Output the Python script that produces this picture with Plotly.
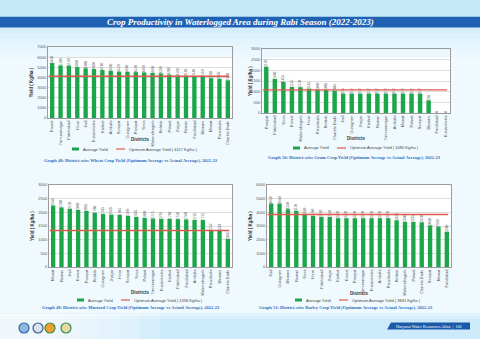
import plotly.graph_objects as go

W, H = 480, 339

# ---------------- data ----------------
wheat_districts = ["Karnal", "Yamunanagar", "Fatehabad", "Hisar", "Jind", "Kurukshetra", "Kaithal",
                   "Ambala", "Sonipat", "Gurugram", "Panipat", "Sirsa", "Mahendragarh", "Rohtak",
                   "Palwal", "Jhajjar", "Rewari", "Faridabad", "Bhiwani", "Mewat", "Panchkula",
                   "Charkhi Dadri"]
wheat_yield = [5420, 5180, 5160, 5020, 4900, 4820, 4740, 4660, 4570, 4560, 4520, 4490, 4450,
               4390, 4280, 4190, 4160, 4140, 4110, 3930, 3870, 3720]
wheat_optimum = 4117

gram_districts = ["Panipat", "Fatehabad", "Sirsa", "Karnal", "Mahendragarh", "Hisar", "Panchkula",
                  "Rohtak", "Charkhi Dadri", "Jind", "Gurugram", "Jhajjar", "Kaithal", "Rewari",
                  "Yamunanagar", "Ambala", "Mewat", "Palwal", "Sonipat", "Bhiwani", "Faridabad",
                  "Kurukshetra"]
gram_yield = [2170, 1600, 1455, 1225, 1210, 1145, 1090, 1085, 1045, 915, 912, 912, 912, 912,
              912, 912, 912, 912, 912, 590, 0, 0]
gram_optimum = 1080

mustard_districts = ["Mewat", "Rewari", "Jind", "Karnal", "Panipat", "Rohtak", "Gurugram",
                     "Jhajjar", "Hisar", "Sonipat", "Sirsa", "Palwal", "Yamunanagar", "Kurukshetra",
                     "Kaithal", "Fatehabad", "Faridabad", "Ambala", "Mahendragarh", "Panchkula",
                     "Bhiwani", "Charkhi Dadri"]
mustard_yield = [2250, 2180, 2130, 2090, 2055, 1980, 1935, 1920, 1905, 1870, 1835, 1800, 1775,
                 1765, 1760, 1750, 1740, 1725, 1715, 1332, 1328, 1035]
mustard_optimum = 1336

barley_districts = ["Jind", "Gurugram", "Bhiwani", "Rewari", "Sirsa", "Hisar", "Fatehabad",
                    "Jhajjar", "Kaithal", "Karnal", "Panipat", "Yamunanagar", "Kurukshetra",
                    "Ambala", "Panchkula", "Rohtak", "Mahendragarh", "Palwal", "Charkhi Dadri",
                    "Sonipat", "Mewat", "Faridabad"]
barley_yield = [4650, 4640, 4230, 4110, 3820, 3740, 3670, 3660, 3570, 3570, 3570, 3570, 3570,
                3570, 3570, 3420, 3300, 3295, 3270, 3050, 2950, 2580]
barley_optimum = 3841

# ---------------- styling ----------------
GREEN = "#1ba64c"
RED = "#e05a4e"
BLUE = "#1f62b4"
TICK = "#555555"
SERIF = "Liberation Serif"
SANS = "Liberation Sans"


def px(x):
    return x / W


def py(y):
    return 1 - y / H


def note(x, y, text, font, **kw):
    a = dict(xref="paper", yref="paper", x=px(x), y=py(y), text=text, showarrow=False,
             font=font, xanchor="center", yanchor="middle")
    a.update(kw)
    return a


panels = [
    dict(d=wheat_districts, v=wheat_yield, opt=wheat_optimum, ymax=7000, dt=1000,
         x0=48, x1=232, yt=47, yb=118, ytitle_x=31, dist_y=139, leg_y=149, leg_x=72,
         cap="Graph 48: District-wise Wheat Crop Yield (Optimum Average vs Actual Average), 2022-23",
         cap_x=131, cap_y=161),
    dict(d=gram_districts, v=gram_yield, opt=gram_optimum, ymax=3000, dt=500,
         x0=262, x1=450, yt=49, yb=113, ytitle_x=250, dist_y=138, leg_y=148, leg_x=293,
         cap="Graph 50: District-wise Gram Crop Yield (Optimum Average vs Actual Average), 2022-23",
         cap_x=354, cap_y=157),
    dict(d=mustard_districts, v=mustard_yield, opt=mustard_optimum, ymax=3000, dt=500,
         x0=49, x1=232, yt=185, yb=267, ytitle_x=32, dist_y=292, leg_y=300, leg_x=77,
         cap="Graph 49: District-wise Mustard Crop Yield (Optimum Average vs Actual Average), 2022-23",
         cap_x=131, cap_y=307),
    dict(d=barley_districts, v=barley_yield, opt=barley_optimum, ymax=6000, dt=1000,
         x0=267, x1=451, yt=185, yb=267, ytitle_x=250, dist_y=293, leg_y=300, leg_x=295,
         cap="Graph 51: District-wise Barley Crop Yield (Optimum Average vs Actual Average), 2022-23",
         cap_x=346, cap_y=307),
]

fig = go.Figure()
shapes = []
annotations = []

# ---------------- page background ----------------
shapes.append(dict(type="rect", xref="paper", yref="paper", x0=0, x1=1, y0=py(17), y1=1,
                   fillcolor="#c6e9fa", line_width=0, layer="below"))
band_cols = ["#d4eefb", "#dcf1fc", "#e3f4fc", "#e8f6fd", "#ecf8fd"]
for i, c in enumerate(band_cols):
    shapes.append(dict(type="rect", xref="paper", yref="paper", x0=0, x1=1,
                       y0=py(27.5 + (i + 1) * 6), y1=py(27.5 + i * 6),
                       fillcolor=c, line_width=0, layer="below"))
# title banner
shapes.append(dict(type="rect", xref="paper", yref="paper", x0=0, x1=1, y0=py(27.5), y1=py(16.7),
                   fillcolor=BLUE, line_width=0, layer="below"))
annotations.append(note(240, 22.2,
                        "<b><i>Crop Productivity in Waterlogged Area during Rabi Season (2022-2023)</i></b>",
                        dict(family=SERIF, size=9, color="white")))

# footer band
foot_cols = ["#e4f4fc", "#d8effb", "#cdeafa"]
for i, c in enumerate(foot_cols):
    shapes.append(dict(type="rect", xref="paper", yref="paper", x0=0, x1=1,
                       y0=py(313 + (i + 1) * 3 if i < 2 else 339), y1=py(313 + i * 3),
                       fillcolor=c, line_width=0, layer="below"))
for i in range(6):
    shapes.append(dict(type="rect", xref="paper", yref="paper", x0=0, x1=px(60 + i * 20),
                       y0=0, y1=py(314), fillcolor="white", opacity=0.18, line_width=0, layer="below"))
# page tab
shapes.append(dict(type="path", xref="paper", yref="paper",
                   path=f"M {px(391)} {py(322.5)} L {px(470)} {py(322.5)} L {px(470)} {py(329.5)} "
                        f"L {px(387)} {py(329.5)} Z",
                   fillcolor="#1b5aa8", line_width=0))
annotations.append(note(429, 326, "Haryana Water Resources Atlas  |  101",
                        dict(family=SERIF, size=4.3, color="white")))
# emblems
for cx, fill, ring in [(24, "#8fb7dd", "#2f66a8"), (38, "#d9e3ee", "#3a5f8f"),
                       (50, "#f0a030", "#3f8f3a"), (66, "#e9d8a0", "#2f8f5a")]:
    shapes.append(dict(type="circle", xref="paper", yref="paper",
                       x0=px(cx - 5), x1=px(cx + 5), y0=py(333), y1=py(323),
                       fillcolor=fill, line=dict(color=ring, width=1.2)))

# ---------------- charts ----------------
for i, p in enumerate(panels):
    n = "" if i == 0 else str(i + 1)
    xa, ya = "x" + n, "y" + n
    fig.add_trace(go.Bar(
        x=p["d"], y=p["v"], xaxis=xa, yaxis=ya, marker=dict(color=GREEN, line_width=0),
        text=[str(v) for v in p["v"]], textposition="outside", textangle=-90,
        textfont=dict(family=SANS, size=3.2, color="#666666"), constraintext="none",
        cliponaxis=False, showlegend=False, name="Average Yield"))
    # optimum average yield: a horizontal rule at the optimum value across the plot
    shapes.append(dict(type="line", xref=xa + " domain", yref=ya, x0=0.004, x1=0.985,
                       y0=p["opt"], y1=p["opt"], line=dict(color=RED, width=1.3)))

    axis_common = dict(showline=True, mirror=True, linecolor="#9c9c9c", linewidth=1, automargin=False)
    fig.layout["xaxis" + n] = dict(
        domain=[px(p["x0"]), px(p["x1"])], anchor=ya, type="category",
        tickangle=-90, tickfont=dict(family=SANS, size=4, color=TICK), ticks="",
        showgrid=False, **axis_common)
    fig.layout["yaxis" + n] = dict(
        domain=[py(p["yb"]), py(p["yt"])], anchor=xa, range=[0, p["ymax"]], dtick=p["dt"],
        tickfont=dict(family=SANS, size=4, color=TICK), ticks="",
        showgrid=True, gridcolor="#dedede", gridwidth=0.6, zeroline=False, **axis_common)

    # axis titles
    annotations.append(note(p["ytitle_x"], (p["yt"] + p["yb"]) / 2, "<b>Yield ( Kg/ha )</b>",
                            dict(family=SANS, size=4.5, color="#333333"), textangle=-90))
    annotations.append(note((p["x0"] + p["x1"]) / 2, p["dist_y"], "<b>Districts</b>",
                            dict(family=SANS, size=4.5, color="#333333")))
    # legend
    lx, ly = p["leg_x"], p["leg_y"]
    shapes.append(dict(type="rect", xref="paper", yref="paper", x0=px(lx), x1=px(lx + 7),
                       y0=py(ly + 1.5), y1=py(ly - 1.5), fillcolor=GREEN, line_width=0))
    annotations.append(note(lx + 8.5, ly, "Average Yield",
                            dict(family=SANS, size=4, color="#444444"), xanchor="left"))
    shapes.append(dict(type="line", xref="paper", yref="paper", x0=px(lx + 44), x1=px(lx + 53),
                       y0=py(ly), y1=py(ly), line=dict(color=RED, width=1.2)))
    annotations.append(note(lx + 54.5, ly, f"Optimum Average Yield ( {p['opt']} Kg/ha )",
                            dict(family=SANS, size=4, color="#444444"), xanchor="left"))
    # caption
    annotations.append(note(p["cap_x"], p["cap_y"], f"<b>{p['cap']}</b>",
                            dict(family=SERIF, size=4.5, color="#2f6cbc")))

fig.update_layout(
    width=W, height=H, margin=dict(l=0, r=0, t=0, b=0),
    paper_bgcolor="#eff9fe", plot_bgcolor="white",
    bargap=0.48, shapes=shapes, annotations=annotations,
)

fig.write_html("out.html")
